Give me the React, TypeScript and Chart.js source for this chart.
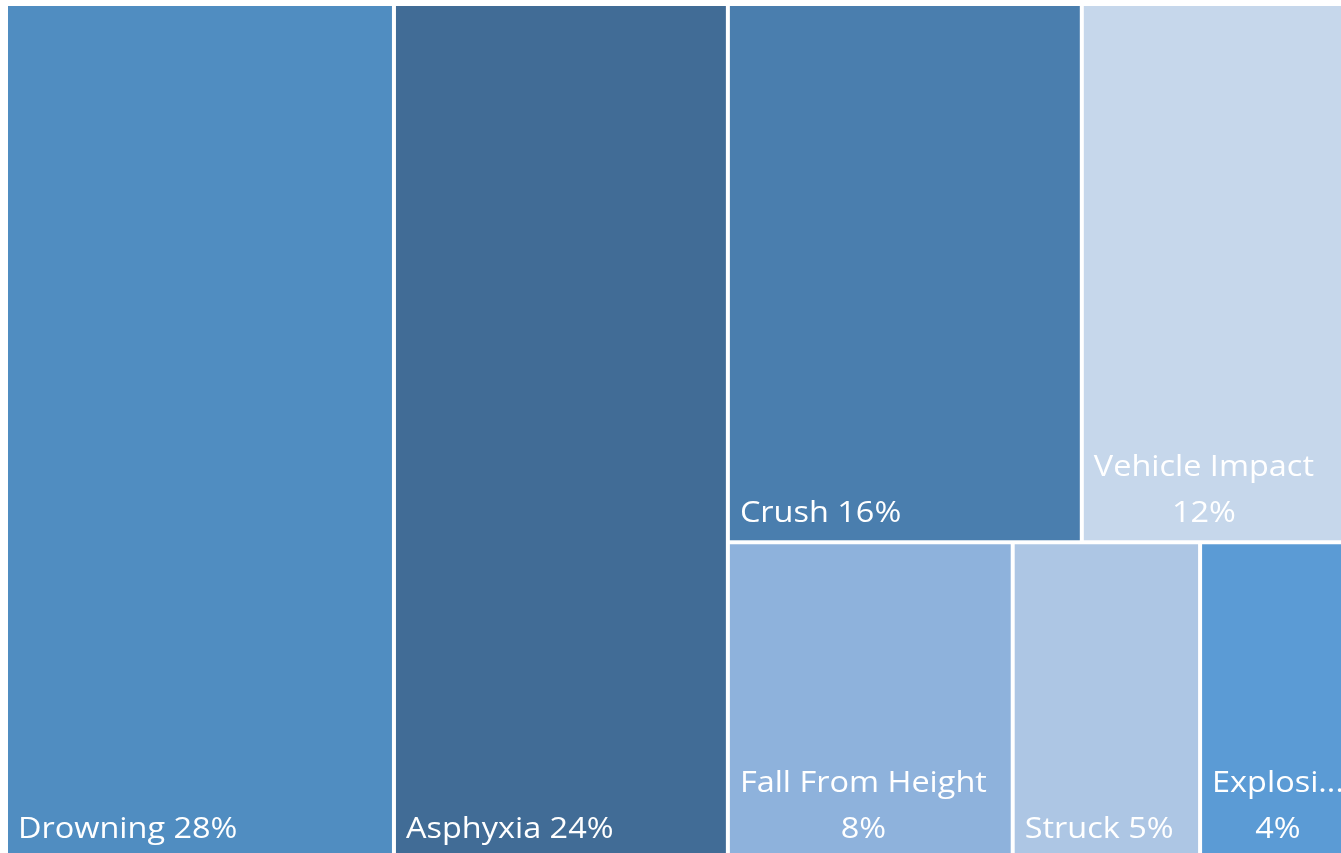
import React, { useEffect, useRef } from "react";
import { Chart, registerables } from "chart.js";

Chart.register(...registerables);

// ---- Data ----
const categories = [
  "Drowning",
  "Asphyxia",
  "Crush",
  "Vehicle Impact",
  "Fall From Height",
  "Struck",
  "Explosion",
];
// relative sizes estimated from the tile areas
const values = [28, 24.1, 16.1, 12.2, 7.6, 5, 4];
// data labels printed on the tiles
const percentLabels = ["28%", "24%", "16%", "12%", "8%", "5%", "4%"];
const colors = [
  "#508DC1",
  "#416C96",
  "#4A7EAE",
  "#C6D7EB",
  "#8EB2DC",
  "#ADC6E4",
  "#5B9BD5",
];

// Treemap nesting (which categories share a strip); sizes come from values
type TreeNode = number | { dir: "row" | "col"; children: TreeNode[] };
const layoutTree: TreeNode = {
  dir: "row",
  children: [
    0,
    1,
    {
      dir: "col",
      children: [
        { dir: "row", children: [2, 3] },
        { dir: "row", children: [4, 5, 6] },
      ],
    },
  ],
};

type Rect = { x0: number; y0: number; x1: number; y1: number };

function nodeSum(n: TreeNode): number {
  if (typeof n === "number") return values[n];
  return n.children.reduce((s, c) => s + nodeSum(c), 0);
}

function layoutNode(n: TreeNode, r: Rect, out: Rect[]) {
  if (typeof n === "number") {
    out[n] = r;
    return;
  }
  const total = nodeSum(n);
  let acc = 0;
  n.children.forEach((c) => {
    const f0 = acc / total;
    acc += nodeSum(c);
    const f1 = acc / total;
    if (n.dir === "row") {
      const w = r.x1 - r.x0;
      layoutNode(c, { x0: r.x0 + w * f0, x1: r.x0 + w * f1, y0: r.y0, y1: r.y1 }, out);
    } else {
      const h = r.y1 - r.y0;
      layoutNode(c, { x0: r.x0, x1: r.x1, y0: r.y0 + h * f0, y1: r.y0 + h * f1 }, out);
    }
  });
}

function computeLayout(): Rect[] {
  const out: Rect[] = [];
  layoutNode(layoutTree, { x0: 0, y0: 0, x1: 1, y1: 1 }, out);
  return out;
}

const FONT_SIZE = 29.5;
const STRETCH = 1.1;
const GAP = 4;
const PAD_X = 12;
const PAD_RIGHT = 4;
const BASE_OFF = 20;
const LINE_H = 46;

const treemapPlugin = {
  id: "treemapCells",
  afterDatasetsDraw(chart: any) {
    const { ctx } = chart;
    const xs = chart.scales.x;
    const ys = chart.scales.y;
    const rects = computeLayout();
    ctx.save();
    rects.forEach((r, i) => {
      const a = xs.getPixelForValue(r.x0);
      const b = xs.getPixelForValue(r.x1);
      const c = ys.getPixelForValue(r.y0);
      const d = ys.getPixelForValue(r.y1);
      const left = Math.min(a, b);
      const right = Math.max(a, b);
      const top = Math.min(c, d);
      const bottom = Math.max(c, d);
      ctx.fillStyle = colors[i];
      ctx.fillRect(left + GAP / 2, top + GAP / 2, right - left - GAP, bottom - top - GAP);

      // label
      ctx.font = `${FONT_SIZE}px "Open Sans", "Noto Sans", sans-serif`;
      ctx.fillStyle = "#ffffff";
      ctx.textBaseline = "alphabetic";
      ctx.textAlign = "left";
      const meas = (t: string) => ctx.measureText(t).width * STRETCH;
      const drawText = (t: string, x: number, y: number) => {
        ctx.save();
        ctx.translate(x, y);
        ctx.scale(STRETCH, 1);
        ctx.fillText(t, 0, 0);
        ctx.restore();
      };
      const avail = right - left - PAD_X - PAD_RIGHT;
      const tx = left + PAD_X;
      const baseY = bottom - BASE_OFF;
      const name = categories[i];
      const pct = percentLabels[i];
      const single = `${name} ${pct}`;
      if (meas(single) <= avail) {
        drawText(single, tx, baseY);
      } else {
        let line1 = name;
        if (meas(line1) > avail) {
          while (line1.length > 1 && meas(line1 + "...") > avail) line1 = line1.slice(0, -1);
          line1 = line1 + "...";
        }
        const w1 = meas(line1);
        const w2 = meas(pct);
        const bw = Math.max(w1, w2);
        drawText(line1, tx + (bw - w1) / 2, baseY - LINE_H);
        drawText(pct, tx + (bw - w2) / 2, baseY);
      }
    });
    ctx.restore();
  },
};

export default function App() {
  const canvasRef = useRef<HTMLCanvasElement | null>(null);

  useEffect(() => {
    if (!canvasRef.current) return;
    const rects = computeLayout();
    const centers = rects.map((r) => ({ x: (r.x0 + r.x1) / 2, y: (r.y0 + r.y1) / 2 }));
    const chart = new Chart(canvasRef.current, {
      type: "scatter",
      data: {
        labels: categories,
        datasets: [
          {
            label: "Share",
            data: centers,
            pointRadius: 0,
            pointHoverRadius: 0,
          },
        ],
      },
      options: {
        animation: false,
        responsive: false,
        devicePixelRatio: 1,
        layout: { padding: { left: 6, top: 4, right: 0, bottom: 2 } },
        plugins: { legend: { display: false }, tooltip: { enabled: false } },
        scales: {
          x: { type: "linear", min: 0, max: 1, display: false },
          y: { type: "linear", min: 0, max: 1, reverse: true, display: false },
        },
      },
      plugins: [treemapPlugin],
    });
    return () => chart.destroy();
  }, []);

  return (
    <div
      style={{
        position: "fixed",
        left: 0,
        top: 0,
        width: "100vw",
        height: "100vh",
        overflow: "hidden",
        background: "#ffffff",
      }}
    >
      <canvas ref={canvasRef} width={1350} height={860} style={{ display: "block" }} />
    </div>
  );
}
